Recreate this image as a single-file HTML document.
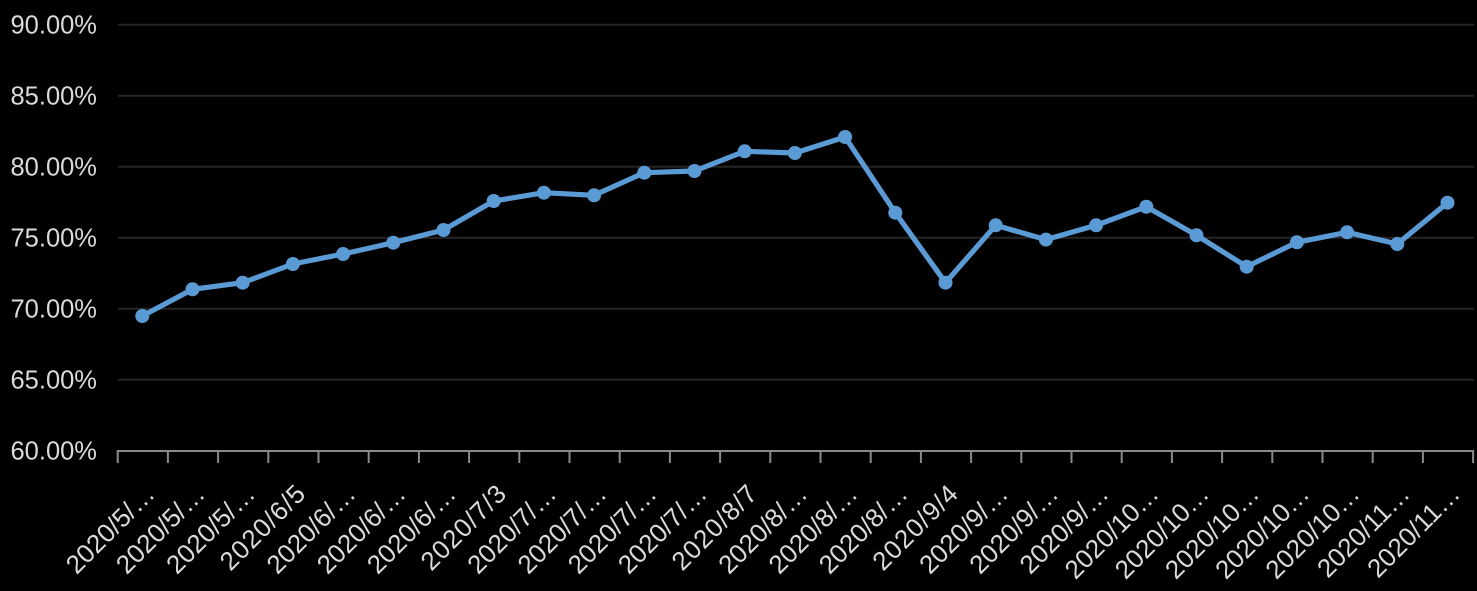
<!DOCTYPE html>
<html><head><meta charset="utf-8"><style>
html,body{margin:0;padding:0;background:#000;}
svg{display:block;}
text{font-family:"Liberation Sans",sans-serif;fill:#dadada;}
</style></head><body>
<svg width="1477" height="591" viewBox="0 0 1477 591" xmlns="http://www.w3.org/2000/svg">
<rect width="1477" height="591" fill="#000"/>
<g stroke="#262626" stroke-width="2">
<line x1="118" y1="24.7" x2="1474" y2="24.7"/>
<line x1="118" y1="95.7" x2="1474" y2="95.7"/>
<line x1="118" y1="166.7" x2="1474" y2="166.7"/>
<line x1="118" y1="237.7" x2="1474" y2="237.7"/>
<line x1="118" y1="308.7" x2="1474" y2="308.7"/>
<line x1="118" y1="379.7" x2="1474" y2="379.7"/>
</g>
<g font-size="25.5" text-anchor="end">
<text x="97" y="33.7">90.00%</text>
<text x="97" y="104.7">85.00%</text>
<text x="97" y="175.7">80.00%</text>
<text x="97" y="246.7">75.00%</text>
<text x="97" y="317.7">70.00%</text>
<text x="97" y="388.7">65.00%</text>
<text x="97" y="459.7">60.00%</text>
</g>
<g stroke="#8a8a8a" stroke-width="2">
<line x1="117.7" y1="451" x2="1474" y2="451"/>
<line x1="117.7" y1="450" x2="117.7" y2="463"/>
<line x1="167.9" y1="450" x2="167.9" y2="463"/>
<line x1="218.1" y1="450" x2="218.1" y2="463"/>
<line x1="268.3" y1="450" x2="268.3" y2="463"/>
<line x1="318.5" y1="450" x2="318.5" y2="463"/>
<line x1="368.7" y1="450" x2="368.7" y2="463"/>
<line x1="418.9" y1="450" x2="418.9" y2="463"/>
<line x1="469.1" y1="450" x2="469.1" y2="463"/>
<line x1="519.3" y1="450" x2="519.3" y2="463"/>
<line x1="569.5" y1="450" x2="569.5" y2="463"/>
<line x1="619.7" y1="450" x2="619.7" y2="463"/>
<line x1="669.9" y1="450" x2="669.9" y2="463"/>
<line x1="720.1" y1="450" x2="720.1" y2="463"/>
<line x1="770.3" y1="450" x2="770.3" y2="463"/>
<line x1="820.5" y1="450" x2="820.5" y2="463"/>
<line x1="870.7" y1="450" x2="870.7" y2="463"/>
<line x1="920.9" y1="450" x2="920.9" y2="463"/>
<line x1="971.1" y1="450" x2="971.1" y2="463"/>
<line x1="1021.3" y1="450" x2="1021.3" y2="463"/>
<line x1="1071.5" y1="450" x2="1071.5" y2="463"/>
<line x1="1121.7" y1="450" x2="1121.7" y2="463"/>
<line x1="1171.9" y1="450" x2="1171.9" y2="463"/>
<line x1="1222.1" y1="450" x2="1222.1" y2="463"/>
<line x1="1272.3" y1="450" x2="1272.3" y2="463"/>
<line x1="1322.5" y1="450" x2="1322.5" y2="463"/>
<line x1="1372.7" y1="450" x2="1372.7" y2="463"/>
<line x1="1422.9" y1="450" x2="1422.9" y2="463"/>
<line x1="1473.1" y1="450" x2="1473.1" y2="463"/>
</g>
<g font-size="26" text-anchor="end">
<text x="156.3" y="495.5" transform="rotate(-45 156.3 495.5)">2020/5/…</text>
<text x="206.5" y="495.5" transform="rotate(-45 206.5 495.5)">2020/5/…</text>
<text x="256.7" y="495.5" transform="rotate(-45 256.7 495.5)">2020/5/…</text>
<text x="306.9" y="495.5" transform="rotate(-45 306.9 495.5)" textLength="108">2020/6/5</text>
<text x="357.1" y="495.5" transform="rotate(-45 357.1 495.5)">2020/6/…</text>
<text x="407.3" y="495.5" transform="rotate(-45 407.3 495.5)">2020/6/…</text>
<text x="457.5" y="495.5" transform="rotate(-45 457.5 495.5)">2020/6/…</text>
<text x="507.7" y="495.5" transform="rotate(-45 507.7 495.5)" textLength="108">2020/7/3</text>
<text x="557.9" y="495.5" transform="rotate(-45 557.9 495.5)">2020/7/…</text>
<text x="608.1" y="495.5" transform="rotate(-45 608.1 495.5)">2020/7/…</text>
<text x="658.3" y="495.5" transform="rotate(-45 658.3 495.5)">2020/7/…</text>
<text x="708.5" y="495.5" transform="rotate(-45 708.5 495.5)">2020/7/…</text>
<text x="758.7" y="495.5" transform="rotate(-45 758.7 495.5)" textLength="108">2020/8/7</text>
<text x="808.9" y="495.5" transform="rotate(-45 808.9 495.5)">2020/8/…</text>
<text x="859.1" y="495.5" transform="rotate(-45 859.1 495.5)">2020/8/…</text>
<text x="909.3" y="495.5" transform="rotate(-45 909.3 495.5)">2020/8/…</text>
<text x="959.5" y="495.5" transform="rotate(-45 959.5 495.5)" textLength="108">2020/9/4</text>
<text x="1009.7" y="495.5" transform="rotate(-45 1009.7 495.5)">2020/9/…</text>
<text x="1059.9" y="495.5" transform="rotate(-45 1059.9 495.5)">2020/9/…</text>
<text x="1110.1" y="495.5" transform="rotate(-45 1110.1 495.5)">2020/9/…</text>
<text x="1160.3" y="495.5" transform="rotate(-45 1160.3 495.5)">2020/10…</text>
<text x="1210.5" y="495.5" transform="rotate(-45 1210.5 495.5)">2020/10…</text>
<text x="1260.7" y="495.5" transform="rotate(-45 1260.7 495.5)">2020/10…</text>
<text x="1310.9" y="495.5" transform="rotate(-45 1310.9 495.5)">2020/10…</text>
<text x="1361.1" y="495.5" transform="rotate(-45 1361.1 495.5)">2020/10…</text>
<text x="1411.3" y="495.5" transform="rotate(-45 1411.3 495.5)">2020/11…</text>
<text x="1461.5" y="495.5" transform="rotate(-45 1461.5 495.5)">2020/11…</text>
</g>
<polyline fill="none" stroke="#5b9bd5" stroke-width="5.2" stroke-linejoin="round" stroke-linecap="round"
points="142.3,316 192.5,289.3 242.7,282.7 292.9,264 343.1,254 393.3,242.7 443.5,230 493.7,201 543.9,192.7 594.1,195.3 644.3,172.7 694.5,171 744.7,151.3 794.9,153 845.1,137 895.3,212.7 945.5,282.7 995.7,225.3 1045.9,239.6 1096.1,225.3 1146.3,206.7 1196.5,235.3 1246.7,266.7 1296.9,242.3 1347.1,232.3 1397.3,244 1447.5,202.7"/>
<g fill="#5b9bd5">
<circle cx="142.3" cy="316" r="7"/>
<circle cx="192.5" cy="289.3" r="7"/>
<circle cx="242.7" cy="282.7" r="7"/>
<circle cx="292.9" cy="264" r="7"/>
<circle cx="343.1" cy="254" r="7"/>
<circle cx="393.3" cy="242.7" r="7"/>
<circle cx="443.5" cy="230" r="7"/>
<circle cx="493.7" cy="201" r="7"/>
<circle cx="543.9" cy="192.7" r="7"/>
<circle cx="594.1" cy="195.3" r="7"/>
<circle cx="644.3" cy="172.7" r="7"/>
<circle cx="694.5" cy="171" r="7"/>
<circle cx="744.7" cy="151.3" r="7"/>
<circle cx="794.9" cy="153" r="7"/>
<circle cx="845.1" cy="137" r="7"/>
<circle cx="895.3" cy="212.7" r="7"/>
<circle cx="945.5" cy="282.7" r="7"/>
<circle cx="995.7" cy="225.3" r="7"/>
<circle cx="1045.9" cy="239.6" r="7"/>
<circle cx="1096.1" cy="225.3" r="7"/>
<circle cx="1146.3" cy="206.7" r="7"/>
<circle cx="1196.5" cy="235.3" r="7"/>
<circle cx="1246.7" cy="266.7" r="7"/>
<circle cx="1296.9" cy="242.3" r="7"/>
<circle cx="1347.1" cy="232.3" r="7"/>
<circle cx="1397.3" cy="244" r="7"/>
<circle cx="1447.5" cy="202.7" r="7"/>
</g>
</svg>
</body></html>
